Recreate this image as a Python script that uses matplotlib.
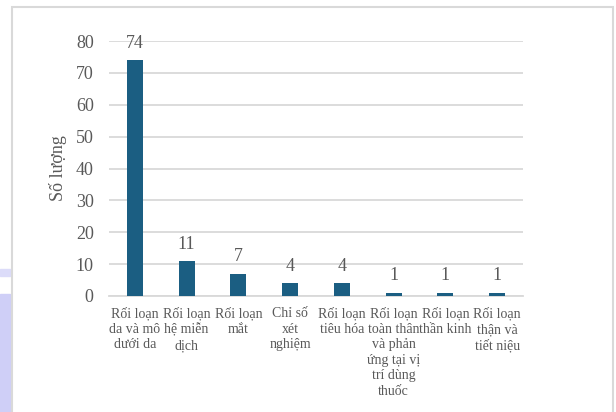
import matplotlib.pyplot as plt
from matplotlib.patches import Rectangle

plt.rcParams['font.family'] = ['Liberation Serif', 'DejaVu Serif']

categories = [
    'Rối loạn\nda và mô\ndưới da',
    'Rối loạn\nhệ miễn\ndịch',
    'Rối loạn\nmắt',
    'Chỉ số\nxét\nnghiệm',
    'Rối loạn\ntiêu hóa',
    'Rối loạn\ntoàn thân\nvà phản\nứng tại vị\ntrí dùng\nthuốc',
    'Rối loạn\nthần kinh',
    'Rối loạn\nthận và\ntiết niệu',
]
counts = [74, 11, 7, 4, 4, 1, 1, 1]
yticks = [0, 10, 20, 30, 40, 50, 60, 70, 80]

bar_color = '#1B5E82'
text_color = '#595959'
grid_color = '#D9D9D9'

fig = plt.figure(figsize=(6.16, 4.12), dpi=100)

# page background strip on the left and the chart frame
fig.patches.append(Rectangle((0, 0), 10 / 616, 118 / 412, transform=fig.transFigure,
                             color='#CFCFF7', zorder=0))
fig.patches.append(Rectangle((0, 136 / 412), 10 / 616, 7 / 412, transform=fig.transFigure,
                             color='#DCDCF9', zorder=0))
fig.patches.append(Rectangle((11.5 / 616, -0.05), 601 / 616, 405 / 412 + 0.05,
                             transform=fig.transFigure, fill=False,
                             edgecolor='#D9D9D9', lw=1.5, zorder=1))

ax = fig.add_axes([109 / 616, 116 / 412, 414 / 616, 255 / 412])
x = range(len(categories))
bars = ax.bar(x, counts, width=0.31, color=bar_color, zorder=3)

for rect, v in zip(bars, counts):
    ax.annotate(str(v), (rect.get_x() + rect.get_width() / 2, v),
                xytext=(0, 6), textcoords='offset points',
                ha='center', va='bottom', fontsize=13, color=text_color)

ax.set_xlim(-0.5, len(categories) - 0.5)
ax.set_ylim(0, 80)
ax.set_yticks(yticks)
ax.set_xticks(list(x))
ax.set_xticklabels(categories, fontsize=10, color=text_color, linespacing=1.24)
ax.tick_params(axis='x', length=0, pad=8)
ax.tick_params(axis='y', length=0, pad=11, labelsize=13, labelcolor=text_color)
ax.yaxis.grid(True, color=grid_color, lw=1.3, zorder=0)
ax.set_axisbelow(True)
for side in ['top', 'right', 'left']:
    ax.spines[side].set_visible(False)
ax.spines['bottom'].set_color(grid_color)
ax.spines['bottom'].set_linewidth(1.3)

ax.set_ylabel('Số lượng', fontsize=13, color=text_color, labelpad=6)

fig.savefig('out.png', dpi=100)
